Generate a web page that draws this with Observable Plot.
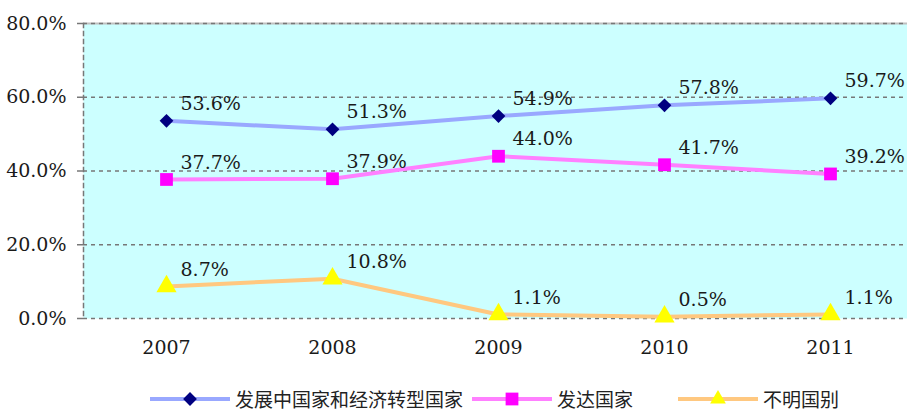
<!DOCTYPE html>
<html>
<head>
<meta charset="utf-8">
<script src="https://cdn.jsdelivr.net/npm/d3@7"></script>
<script src="https://cdn.jsdelivr.net/npm/@observablehq/plot@0.6"></script>
<style>
  body { margin: 0; background: #fff; overflow: hidden; width: 907px; height: 411px; }
  #chart svg { overflow: hidden; display: block; }
  #legend { display: flex; align-items: center; margin-left: 149px; margin-top: 12px; height: 22px; line-height: 22px;
    font-family: "Noto Sans CJK SC", sans-serif; font-size: 19px; color: #222; white-space: nowrap; }
  #legend .item { display: flex; align-items: center; margin-right: 8px; }
  #legend .item:nth-child(2) { margin-right: 44px; }
  #legend svg { display: block; margin-right: 4px; }
</style>
</head>
<body>
<div id="chart"></div>
<div id="legend"></div>
<script>
const years = ["2007", "2008", "2009", "2010", "2011"];
const seriesNames = ["发展中国家和经济转型国家", "发达国家", "不明国别"];
const developing = [53.6, 51.3, 54.9, 57.8, 59.7];
const developed = [37.7, 37.9, 44.0, 41.7, 39.2];
const unknown = [8.7, 10.8, 1.1, 0.5, 1.1];
const yTicks = [0, 20, 40, 60, 80];

const styles = [
  {line: "#99A8FF", fill: "#000080", symbol: "diamond2", r: 6.2},
  {line: "#FF80FF", fill: "#FF00FF", symbol: "square", r: 7.2},
  {line: "#FFC880", fill: "#FFFF00", symbol: "triangle", r: 7.5}
];

const values = [developing, developed, unknown];
const data = [];
values.forEach((arr, si) => arr.forEach((v, i) => data.push({series: seriesNames[si], si, year: years[i], v})));

const serif = "DejaVu Serif";
const chart = Plot.plot({
  width: 907,
  height: 376,
  marginLeft: 83,
  marginRight: 0,
  marginTop: 23,
  marginBottom: 58,
  style: {fontSize: "19px", color: "#1a1a1a", background: "#fff", fontFamily: serif},
  x: {type: "point", domain: years, range: [83, 913], label: null},
  y: {domain: [0, 80], label: null},
  marks: [
    Plot.frame({fill: "#CCFFFF", stroke: "none"}),
    Plot.ruleY([80], {stroke: "#c0c0c0", strokeWidth: 2}),
    Plot.ruleY(yTicks, {stroke: "#777", strokeWidth: 1.5, strokeDasharray: "4,4"}),
    Plot.frame({anchor: "left", stroke: "#777", strokeWidth: 1.5, strokeDasharray: "4,4"}),
    Plot.axisY({ticks: yTicks, tickSize: 6, tickPadding: 11, stroke: "#777", strokeWidth: 1.5,
      tickFormat: d => d.toFixed(1) + "%", fontSize: 19, fontFamily: serif}),
    Plot.axisX({tickSize: 0, tickPadding: 22, fontSize: 19, fontFamily: serif}),
    ...styles.map((s, si) => Plot.line(data.filter(d => d.si === si), {x: "year", y: "v", stroke: s.line, strokeWidth: 4})),
    ...styles.map((s, si) => Plot.dot(data.filter(d => d.si === si), {x: "year", y: "v", symbol: () => s.symbol, fill: s.fill, stroke: "none", r: s.r})),
    Plot.text(data, {x: "year", y: "v", text: d => d.v.toFixed(1) + "%", textAnchor: "start", dx: 14, dy: -17, fontSize: 19, fontFamily: serif, fill: "#1a1a1a"})
  ]
});
document.getElementById("chart").appendChild(chart);

// Legend
const legend = d3.select("#legend");
seriesNames.forEach((name, i) => {
  const s = styles[i];
  const item = legend.append("div").attr("class", "item");
  const svg = item.append("svg").attr("width", 82).attr("height", 20);
  svg.append("line").attr("x1", 1).attr("x2", 81).attr("y1", 10).attr("y2", 10)
    .attr("stroke", s.line).attr("stroke-width", 4);
  const sym = {diamond2: d3.symbolDiamond2, square: d3.symbolSquare, triangle: d3.symbolTriangle2}[s.symbol];
  svg.append("path").attr("transform", "translate(41,10)")
    .attr("d", d3.symbol(sym, Math.PI * s.r * s.r)()).attr("fill", s.fill);
  item.append("span").text(name);
});
</script>
</body>
</html>
